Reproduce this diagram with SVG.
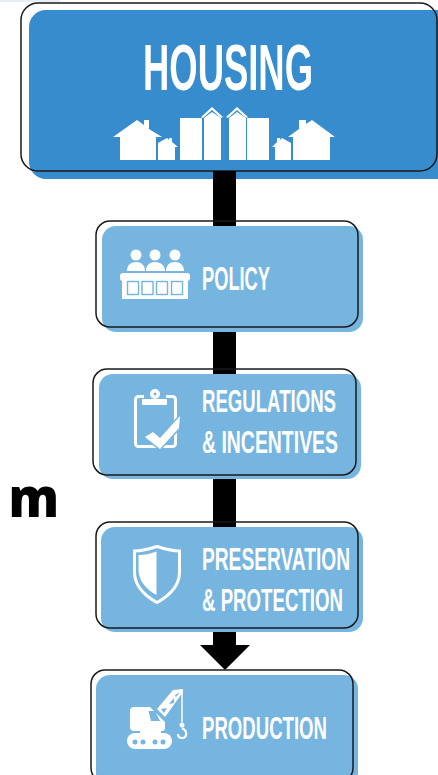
<svg xmlns="http://www.w3.org/2000/svg" width="438" height="775" viewBox="0 0 438 775">
<style>
.dark{fill:#368CCC}
.light{fill:#75B5E0}
.edge{fill:none;stroke:#1a1a1a;stroke-width:1.5}
.t{font-family:"Liberation Sans Narrow","Liberation Sans",sans-serif;font-weight:700;fill:#fff}
.w{fill:#fff}
.link{fill:#000}
.hole{fill:none;stroke:#75B5E0;stroke-width:1.4}
</style>
<rect width="438" height="775" fill="#fff"/>
<rect x="0" y="0" width="60" height="2" fill="#e8eef8"/>
<text transform="translate(59,517) scale(0.92,1)" text-anchor="end" font-family="'Open Sans',sans-serif" font-weight="800" font-size="55" fill="#000">a<tspan dx="7.5">m</tspan></text>
<g id="housing">
<rect class="dark" x="29" y="10" width="425" height="169" rx="17"/>
<rect class="edge" x="21" y="3" width="416" height="168" rx="17"/>
<text class="t" x="143" y="90" font-size="64" textLength="170" lengthAdjust="spacingAndGlyphs">HOUSING</text>
<g class="w">
<polygon points="113,137 137,120 144,125 144,120 149,120 149,129 162,137 156,137 156,160 120,160 120,137"/>
<polygon points="158,143 167,138 169,140 169,138 172,138 172,142 178,147 175,147 175,160 158,160"/>
<rect x="180" y="118" width="22" height="42"/>
<polygon points="204,160 204,118 212,112 221,118 221,160"/>
<polygon points="201,117 212,107 223,117 221,118 212,110 203,118"/>
<polygon points="229,160 229,118 237,112 246,118 246,160"/>
<polygon points="226,117 237,107 248,117 246,118 237,110 228,118"/>
<rect x="247" y="118" width="22" height="42"/>
<polygon points="272,147 275,147 275,160 291,160 291,143 282,138 280,140 280,138 277,138 277,142"/>
<polygon points="288,137 299,129 299,120 306,120 306,124 312,120 335,137 330,137 330,160 293,160 293,137"/>
</g>
</g>
<g id="connectors">
<rect class="link" x="213" y="171" width="23" height="56"/>
<rect class="link" x="213" y="332" width="23" height="43"/>
<rect class="link" x="213" y="479" width="23" height="49"/>
<polygon class="link" points="213,632 236,632 236,645 250,645 225,670 200,645 213,645"/>
</g>
<g id="policy">
<rect class="light" x="102" y="226" width="261" height="106" rx="14"/>
<rect class="edge" x="96" y="221" width="262" height="106" rx="14"/>
<g class="w">
<circle cx="136" cy="255" r="5.500"/><circle cx="155" cy="255" r="5.500"/><circle cx="175" cy="255" r="5.500"/>
<path d="M127,271c0,-6 4,-9 9,-9s9,3 9,9zM146,271c0,-6 4,-9 9,-9s10,3 10,9zM166,271c0,-6 4,-9 9,-9s9,3 9,9z"/>
<rect x="120" y="273" width="70" height="8" rx="3"/>
<rect x="122" y="279" width="66" height="20"/>
</g>
<rect class="hole" x="127.500" y="281.500" width="11" height="13"/>
<rect class="hole" x="142" y="281.500" width="11" height="13"/>
<rect class="hole" x="156.500" y="281.500" width="11" height="13"/>
<rect class="hole" x="171.500" y="281.500" width="11" height="13"/>
<text class="t" x="202" y="290" font-size="33" textLength="68" lengthAdjust="spacingAndGlyphs">POLICY</text>
</g>
<g id="regulations">
<rect class="light" x="99" y="374" width="262" height="105" rx="14"/>
<rect class="edge" x="93" y="369" width="263" height="106" rx="14"/>
<rect x="135.500" y="396.500" width="40" height="50" rx="3" fill="none" stroke="#fff" stroke-width="3"/>
<rect class="light" x="144" y="392" width="22" height="8"/>
<circle class="w" cx="155" cy="394" r="5"/>
<circle class="light" cx="155" cy="394" r="1.500"/>
<rect class="w" x="142" y="399" width="25" height="6" rx="1"/>
<polygon class="w" points="145,437 153,432 160,438 180,416 179,428 160,449" stroke="#75B5E0" stroke-width="3" paint-order="stroke"/>
<text class="t" x="202" y="412" font-size="32" textLength="134" lengthAdjust="spacingAndGlyphs">REGULATIONS</text>
<text class="t" x="202" y="453" font-size="32" textLength="136" lengthAdjust="spacingAndGlyphs">&amp; INCENTIVES</text>
</g>
<g id="preservation">
<rect class="light" x="101" y="527" width="262" height="105" rx="14"/>
<rect class="edge" x="96" y="522" width="262" height="106" rx="14"/>
<path d="M157,546.500 C165,549 172,551 179.500,551 V572 C179.500,587 167,597 157,602.500 C147,597 134.500,587 134.500,572 V551 C142,551 149,549 157,546.500Z" fill="none" stroke="#fff" stroke-width="3"/>
<path class="w" d="M156.500,551.500 V595 C147,590 138.500,581 138.500,570 V555 C145,555 150,554 156.500,551.500Z"/>
<text class="t" x="202" y="570" font-size="32" textLength="148" lengthAdjust="spacingAndGlyphs">PRESERVATION</text>
<text class="t" x="202" y="611" font-size="32" textLength="141" lengthAdjust="spacingAndGlyphs">&amp; PROTECTION</text>
</g>
<g id="production">
<rect class="light" x="96" y="675" width="262" height="112" rx="14"/>
<rect class="edge" x="91" y="670" width="262" height="112" rx="14"/>
<path class="w" d="M134,707 H150 L165,722 V728 Q165,731 162,731 H134 Q130,731 130,727 V711 Q130,707 134,707Z"/>
<polygon class="light" points="148.500,711 155,711 160,721 151,721"/>
<polygon class="w" points="157,709 173,690 183,689 183,692 165,717"/>
<polygon class="light" points="161,709 167,708 164,713"/>
<polygon class="light" points="169,704 174,698 174,703"/>
<polygon class="light" points="175,695 180,692 176,697"/>
<rect class="w" x="140" y="730" width="21" height="6"/>
<rect class="w" x="127" y="733" width="45" height="16" rx="8"/>
<g class="light"><circle cx="135" cy="742" r="2.500"/><circle cx="143" cy="742" r="2.500"/><circle cx="155" cy="742" r="2.500"/><circle cx="163" cy="742" r="2.500"/></g>
<path d="M182,690 V722" fill="none" stroke="#fff" stroke-width="1.500"/>
<circle class="w" cx="182" cy="725" r="2.500"/>
<path d="M182,728 C188,731 187,738 182,738 C179,738 178,736 178,734" fill="none" stroke="#fff" stroke-width="2.200"/>
<text class="t" x="202" y="739" font-size="32" textLength="125" lengthAdjust="spacingAndGlyphs">PRODUCTION</text>
</g>
</svg>
